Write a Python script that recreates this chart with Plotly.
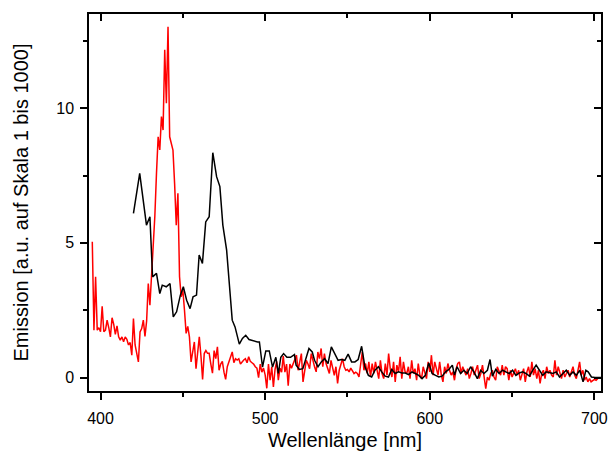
import plotly.graph_objects as go

# ---- data ----
red_start_nm = 395  # red spectrum sampled every 1 nm starting here
red_values = [
    # 395-519
    5.04, 1.76, 3.74, 1.76, 1.85, 1.70, 2.65, 1.70, 1.76, 2.13,
    1.85, 1.51, 2.22, 1.98, 1.60, 1.92, 1.51, 1.39, 1.51, 1.33,
    1.51, 1.42, 1.21, 1.30, 0.83, 2.19, 1.21, 0.90, 0.58, 1.69,
    1.82, 2.13, 1.53, 2.10, 3.49, 2.69, 3.74, 5.20, 6.00, 7.60,
    8.94, 8.45, 9.69, 9.19, 12.17, 10.19, 13.03, 8.94, 8.70, 8.45,
    7.20, 5.66, 6.84, 3.74, 3.00, 3.25, 2.50, 1.64, 1.90, 1.51,
    0.58, 1.00, 1.32, 0.33, 0.90, 1.51, 0.80, -0.07, 0.89, 1.00,
    0.90, 0.90, 0.50, 0.16, 1.00, 0.70, 1.14, 0.27, 0.50, 0.60,
    0.20, -0.07, 0.40, 0.60, 0.77, 0.95, 0.55, 0.70, 0.65, 0.70,
    0.50, 0.60, 0.65, 0.70, 0.55, 0.77, 0.60, 0.55, 0.50, 0.40,
    0.35, 0.00, 0.50, 0.20, 0.35, 0.10, -0.40, 0.50, -0.10, 0.40,
    -0.35, 0.30, 0.60, -0.10, 0.35, 0.20, 0.80, 0.20, 0.50, -0.30,
    0.50, 0.35, 0.50, 0.70, 0.83,
    # 520-559
    0.27, 0.60, 0.89, -0.16, 0.30, 0.64, 0.50, 0.33, 0.89, 0.60,
    0.40, 0.21, 0.95, 0.70, 1.08, 0.40, 0.89, 0.52, 0.30, 0.15,
    0.64, 0.40, 0.08, 0.40, -0.22, 0.27, 0.50, 0.70, 0.40, 0.27,
    0.30, 0.21, 0.35, 0.27, 0.15, 0.20, 0.15, 0.02, 0.52, 0.95,
    # 560-612
    0.27, 0.52, 0.15, 0.58, 0.02, 0.52, 0.15, 0.58, 0.27, -0.04,
    0.64, 0.15, -0.04, 0.52, 0.09, 0.89, 0.33, 0.02, 0.58, -0.16,
    0.46, 0.21, 0.77, -0.04, 0.58, 0.21, 0.15, 0.40, -0.04, 0.64,
    0.15, 0.33, -0.10, 0.52, 0.09, -0.04, 0.40, 0.21, -0.04, 0.58,
    0.21, 0.83, 0.09, 0.58, 0.27, 0.09, 0.58, 0.09, -0.16, 0.40,
    0.15, 0.52, 0.27,
    # 613-702
    0.09, 0.21, -0.10, 0.33, 0.52, 0.58, 0.15, 0.40, 0.27, 0.09,
    0.33, -0.04, 0.15, 0.40, 0.09, 0.27, 0.46, -0.04, 0.15, 0.46,
    0.02, -0.41, 0.02, -0.10, 0.15, 0.27, 0.02, -0.10, 0.40, 0.27,
    0.09, 0.46, 0.09, 0.40, 0.33, -0.10, 0.27, 0.02, 0.21, 0.33,
    0.09, 0.27, -0.10, 0.15, 0.33, -0.16, 0.21, 0.40, 0.02, 0.58,
    0.09, 0.33, -0.04, 0.27, -0.22, 0.15, 0.27, -0.04, 0.40, 0.15,
    0.27, 0.09, 0.02, 0.64, 0.09, 0.40, 0.21, -0.04, 0.27, 0.02,
    0.15, 0.27, 0.02, 0.21, 0.40, 0.09, -0.04, 0.27, 0.58, 0.09,
    0.27, -0.10, 0.02, -0.16, -0.04, -0.16, -0.10, -0.07, -0.10, -0.04,
]
red_nm = [red_start_nm + i for i in range(len(red_values))]

black_nm = [
    420.0, 423.8, 427.9, 430.0, 431.6, 434.0, 436.0, 437.5, 439.9, 442.2,
    444.2, 446.2, 448.5, 450.3, 452.3, 454.4, 456.2, 458.3, 459.9, 461.9,
    463.9, 466.0, 468.2, 470.5, 472.5, 474.3, 476.6, 478.2, 480.0, 481.7,
    484.3, 486.2, 488.2, 490.2, 492.8, 495.4, 496.5, 498.4, 500.4, 502.5,
    504.5, 506.5, 508.0, 509.5, 511.2, 513.2, 515.4, 517.8, 518.8, 520.8,
    522.9, 524.9, 526.6, 528.6, 530.0, 532.1, 534.1, 536.1, 538.2, 540.2,
    542.3, 544.3, 546.3, 548.4, 550.4, 552.5, 554.5, 556.5, 558.6, 560.6,
    562.7, 564.7, 566.7, 568.8, 570.8, 572.9, 574.9, 576.9, 579.0, 581.0,
    583.1, 585.1, 587.1, 589.2, 591.2, 593.3, 595.3, 597.3, 599.4, 601.4,
    603.5, 605.5, 607.5, 609.6, 611.6, 613.7, 615.0, 616.6, 618.7, 620.7,
    622.7, 624.8, 626.8, 628.9, 630.9, 632.9, 635.0, 636.6, 638.0, 640.1,
    642.1, 644.2, 646.2, 648.2, 650.3, 652.3, 654.4, 656.4, 658.4, 660.5,
    662.5, 664.6, 666.6, 668.6, 670.7, 672.7, 674.8, 676.8, 678.8, 680.9,
    682.9, 685.0, 687.0, 689.0, 691.1, 693.1, 694.8, 696.2, 698.2, 700.3,
    705.4,
]
black_values = [
    6.10, 7.58, 5.66, 5.97, 3.74, 3.87, 3.12, 3.43, 3.37, 3.49,
    2.25, 2.44, 3.06, 3.37, 2.87, 2.56, 3.00, 3.06, 4.55, 4.24,
    5.78, 5.97, 8.35, 7.46, 7.09, 5.66, 4.73, 3.49, 2.13, 1.88,
    1.24, 1.45, 1.57, 1.41, 1.35, 1.32, 1.32, 0.39, 0.99, 0.99,
    0.39, 0.75, 0.15, 0.75, 0.89, 0.75, 0.75, 0.85, 0.46, 0.30,
    0.33, 0.77, 1.08, 0.95, 0.64, 0.40, 0.58, 0.70, 0.52, 1.14,
    0.89, 0.64, 0.67, 0.64, 0.87, 0.58, 0.58, 0.67, 1.16, 0.40,
    0.08, 0.02, 0.27, 0.40, 0.21, 0.05, 0.02, 0.30, 0.15, 0.21,
    0.17, 0.17, 0.11, 0.21, 0.15, 0.08, -0.04, 0.08, 0.54, 0.15,
    0.08, 0.02, 0.05, 0.21, 0.30, 0.46, 0.09, 0.40, 0.15, 0.27,
    0.15, 0.40, 0.21, -0.04, 0.27, 0.15, 0.27, 0.67, 0.05, 0.30,
    0.15, 0.27, 0.21, 0.15, 0.27, 0.08, 0.17, 0.21, 0.15, 0.05,
    0.27, 0.46, 0.27, 0.08, 0.21, 0.17, 0.15, 0.21, 0.02, 0.15,
    0.27, 0.08, 0.21, 0.08, 0.27, -0.16, 0.27, 0.21, 0.02, 0.00,
    0.00,
]

x_range = [393, 704]
y_range = [-0.5, 13.5]
x_ticks = [400, 500, 600, 700]
y_ticks = [0, 5, 10]

FONT = "Liberation Sans, Arial, sans-serif"

fig = go.Figure()
fig.add_trace(go.Scatter(x=red_nm, y=red_values, mode="lines",
                         line=dict(color="#ff0000", width=1.5),
                         showlegend=False, hoverinfo="skip"))
fig.add_trace(go.Scatter(x=black_nm, y=black_values, mode="lines",
                         line=dict(color="#000000", width=1.5),
                         xaxis="x2", yaxis="y2",
                         showlegend=False, hoverinfo="skip"))

common = dict(showgrid=False, zeroline=False, showline=True,
              linecolor="black", linewidth=1.5, automargin=False,
              tickcolor="black", tickwidth=1.5, ticklen=7)

fig.update_layout(
    width=608, height=451,
    margin=dict(l=89, r=7, t=14, b=60, autoexpand=False),
    paper_bgcolor="white", plot_bgcolor="white",
    font=dict(family=FONT, color="black"),
    xaxis=dict(range=x_range, tickvals=x_ticks, ticks="outside",
               ticklabelstandoff=5,
               minor=dict(dtick=50, tick0=400, ticks="outside", ticklen=4,
                          tickwidth=1.5, tickcolor="black"),
               tickfont=dict(size=16, family=FONT),
               title=dict(text="Wellenlänge [nm]", font=dict(size=20, family=FONT),
                          standoff=16),
               **common),
    yaxis=dict(range=y_range, tickvals=y_ticks, ticks="outside",
               ticklabelstandoff=3,
               minor=dict(dtick=2.5, tick0=0, ticks="outside", ticklen=4,
                          tickwidth=1.5, tickcolor="black"),
               tickfont=dict(size=16, family=FONT),
               title=dict(text="Emission [a.u. auf Skala 1 bis 1000]",
                          font=dict(size=20, family=FONT), standoff=22),
               **common),
    xaxis2=dict(range=x_range, tickvals=x_ticks, ticks="inside", side="top",
                overlaying="x", anchor="y2", showticklabels=False,
                minor=dict(dtick=50, tick0=400, ticks="inside", ticklen=4,
                           tickwidth=1.5, tickcolor="black"),
                **common),
    yaxis2=dict(range=y_range, tickvals=y_ticks, ticks="inside", side="right",
                overlaying="y", anchor="x2", showticklabels=False,
                minor=dict(dtick=2.5, tick0=0, ticks="inside", ticklen=4,
                           tickwidth=1.5, tickcolor="black"),
                **common),
)

fig.write_html("out.html", config={"displayModeBar": False},
               post_script="document.body.style.margin='0';document.body.style.padding='0';")
